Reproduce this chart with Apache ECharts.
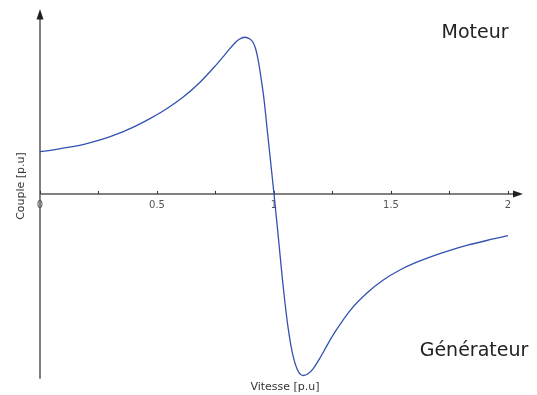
<!DOCTYPE html>
<html>
<head>
<meta charset="utf-8">
<script src="https://cdn.jsdelivr.net/npm/echarts@6/dist/echarts.min.js"></script>
<style>
  html, body { margin: 0; padding: 0; background: #fff; }
  #chart { width: 537px; height: 395px; }
</style>
</head>
<body>
<div id="chart"></div>
<script>
// Torque-speed characteristic of an induction machine (per-unit values)
const vitesse = [
  0.000, 0.064, 0.125, 0.192, 0.268, 0.342, 0.410, 0.470, 0.538, 0.612,
  0.684, 0.755, 0.791, 0.826, 0.850, 0.876, 0.897, 0.912, 0.923, 0.933,
  0.944, 0.957, 0.970, 0.983, 1.000, 1.018, 1.040, 1.061, 1.082, 1.104,
  1.126, 1.145, 1.167, 1.197, 1.222, 1.253, 1.325, 1.396, 1.467,
  1.538, 1.610, 1.681, 1.752, 1.824, 1.909, 2.000
];
const couple = [
  0.705, 0.740, 0.779, 0.832, 0.912, 1.016, 1.135, 1.255, 1.411, 1.615,
  1.863, 2.160, 2.328, 2.488, 2.575, 2.612, 2.583, 2.517, 2.400, 2.217,
  1.950, 1.590, 1.110, 0.630, 0.000, -0.700, -1.570, -2.250, -2.710, -2.962,
  -3.028, -3.000, -2.917, -2.733, -2.560, -2.350, -1.945, -1.656, -1.436,
  -1.269, -1.139, -1.032, -0.940, -0.859, -0.777, -0.697
];

// Axis ticks and labels
const xTicks = [0, 0.25, 0.5, 0.75, 1, 1.25, 1.5, 1.75, 2];
const xLabels = [0, 0.5, 1, 1.5, 2];

// Axis titles and operating regions
const xTitle = 'Vitesse [p.u]';
const yTitle = 'Couple [p.u]';
const zoneMoteur = 'Moteur';
const zoneGenerateur = 'Générateur';

const FONT = 'DejaVu Sans';
const X_MAX = 2.03, Y_MIN = -3.07, Y_MAX = 3.0;
const GRID = { left: 40, right: 22, top: 14, bottom: 17 };
const GRID_H = 395 - GRID.top - GRID.bottom;
// Lift the horizontal axis (line, ticks and labels) from the grid bottom to torque = 0
const xAxisLift = -GRID_H * (0 - Y_MIN) / (Y_MAX - Y_MIN);

const chart = echarts.init(document.getElementById('chart'), null, { renderer: 'canvas' });

chart.setOption({
  animation: false,
  backgroundColor: '#ffffff',
  grid: GRID,
  xAxis: {
    type: 'value',
    min: 0,
    max: X_MAX,
    position: 'bottom',
    offset: xAxisLift,
    axisLine: { onZero: false, lineStyle: { color: '#808080', width: 2 } },
    axisTick: {
      show: true, inside: true, length: 3, customValues: xTicks,
      lineStyle: { color: '#333', width: 1 }
    },
    axisLabel: {
      customValues: xLabels, margin: 7, fontSize: 10,
      color: '#555', fontFamily: FONT
    },
    splitLine: { show: false }
  },
  yAxis: {
    type: 'value',
    min: Y_MIN,
    max: Y_MAX,
    axisLine: { show: true, onZero: false, lineStyle: { color: '#808080', width: 2 } },
    axisTick: { show: false },
    axisLabel: { show: false },
    splitLine: { show: false }
  },
  series: [{
    type: 'line',
    data: vitesse.map((v, i) => [v, couple[i]]),
    showSymbol: false,
    smooth: 0.35,
    lineStyle: { color: '#3352b0', width: 1.3 },
    z: 5
  }]
});

// Arrowheads at the axis ends and the text annotations
const xEnd = chart.convertToPixel({ gridIndex: 0 }, [X_MAX, 0]);
const yEnd = chart.convertToPixel({ gridIndex: 0 }, [0, Y_MAX]);

chart.setOption({
  graphic: [
    {
      type: 'polygon',
      shape: { points: [[xEnd[0] + 8, xEnd[1]], [xEnd[0] - 2, xEnd[1] - 3.5], [xEnd[0] - 2, xEnd[1] + 3.5]] },
      style: { fill: '#222' }, z: 10
    },
    {
      type: 'polygon',
      shape: { points: [[yEnd[0], yEnd[1] - 5], [yEnd[0] - 3.5, yEnd[1] + 5.5], [yEnd[0] + 3.5, yEnd[1] + 5.5]] },
      style: { fill: '#222' }, z: 10
    },
    {
      type: 'text', x: 475, y: 33.5,
      style: { text: zoneMoteur, font: '19px "DejaVu Sans"', fill: '#222', align: 'center', verticalAlign: 'middle' }
    },
    {
      type: 'text', x: 474, y: 351.5,
      style: { text: zoneGenerateur, font: '19px "DejaVu Sans"', fill: '#222', align: 'center', verticalAlign: 'middle' }
    },
    {
      type: 'text', x: 285, y: 387,
      style: { text: xTitle, font: '11px "DejaVu Sans"', fill: '#333', align: 'center', verticalAlign: 'middle' }
    },
    {
      type: 'text', x: 21, y: 186, rotation: Math.PI / 2,
      style: { text: yTitle, font: '11px "DejaVu Sans"', fill: '#333', align: 'center', verticalAlign: 'middle' }
    }
  ]
});
</script>
</body>
</html>
